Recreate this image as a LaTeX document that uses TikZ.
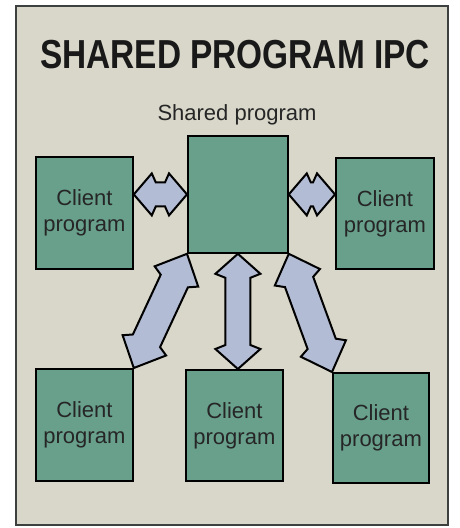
\documentclass[tikz,border=0pt]{standalone}
\usepackage{fontspec}
\newfontfamily\arialf{Liberation Sans}
\definecolor{bgc}{RGB}{216,215,202}
\definecolor{boxc}{RGB}{104,160,140}
\definecolor{arrc}{RGB}{178,188,212}
\definecolor{framec}{RGB}{60,64,62}
\tikzset{
  prog/.style={draw=black, line width=1.8pt, fill=boxc, anchor=north west, inner sep=0pt,
    align=center, font=\arialf\fontsize{22}{26}\selectfont, text=black!85},
  blk/.style={draw=black, line width=2pt, fill=arrc, line join=miter, miter limit=20},
}
% double block arrow between two points: #1 from, #2 to, #3 head half width, #4 shaft half width, #5 head length, #6 barb
\newcommand\dblarr[6]{%
  \path (#1); \pgfgetlastxy{\ax}{\ay}%
  \path (#2); \pgfgetlastxy{\bx}{\by}%
  \pgfmathsetmacro\ang{atan2(\by-\ay,\bx-\ax)}%
  \pgfmathsetmacro\len{veclen(\bx-\ax,\by-\ay)}%
  \pgfmathsetmacro\da{#5}%
  \pgfmathsetmacro\db{#5+#6}%
  \pgfmathsetmacro\dc{\len-#5-#6}%
  \pgfmathsetmacro\dd{\len-#5}%
  \begin{scope}[shift={(\ax,\ay)}, rotate=\ang]
    \draw[blk] (0pt,0pt) -- (\da pt,#3pt) -- (\db pt,#4pt) -- (\dc pt,#4pt) -- (\dd pt,#3pt)
      -- (\len pt,0pt) -- (\dd pt,-#3pt) -- (\dc pt,-#4pt) -- (\db pt,-#4pt) -- (\da pt,-#3pt) -- cycle;
  \end{scope}}
\begin{document}
\begin{tikzpicture}[x=1pt,y=-1pt]
  \useasboundingbox (0,0) rectangle (459,528);
  \fill[white] (0,0) rectangle (459,528);
  \draw[framec, line width=1.6pt, fill=bgc] (16,6) rectangle (448,525);
  \node[anchor=base, inner sep=0pt, xscale=0.825, font=\arialf\bfseries\fontsize{40.5}{40.5}\selectfont, text=black!90] (title) at (235,68) {SHARED PROGRAM IPC};
  \node[anchor=base, inner sep=0pt, font=\arialf\fontsize{22}{26}\selectfont, text=black!85] (slabel) at (237,120) {Shared program};
  \node[prog, minimum width=100pt, minimum height=117pt] (c) at (187,135) {};
  \node[prog, minimum width=97pt, minimum height=112pt] (l) at (35,156) {Client\\program};
  \node[prog, minimum width=98pt, minimum height=111pt] (r) at (335,157) {Client\\program};
  \node[prog, minimum width=97pt, minimum height=112pt] (bl) at (35,368) {Client\\program};
  \node[prog, minimum width=97pt, minimum height=111pt] (bm) at (185,369) {Client\\program};
  \node[prog, minimum width=96pt, minimum height=110pt] (br) at (332,372) {Client\\program};
  \dblarr{c.west -| l.east}{c.west}{21}{12}{18}{4}
  \dblarr{c.east}{c.east -| r.west}{21}{12}{18}{4}
  \dblarr{c.south}{c.south |- bm.north}{22.5}{12.5}{20}{4}
  \dblarr{c.south west}{bl.north east}{24}{15}{25}{5}
  \dblarr{c.south east}{br.north west}{24}{15}{25}{5}
\end{tikzpicture}
\end{document}
